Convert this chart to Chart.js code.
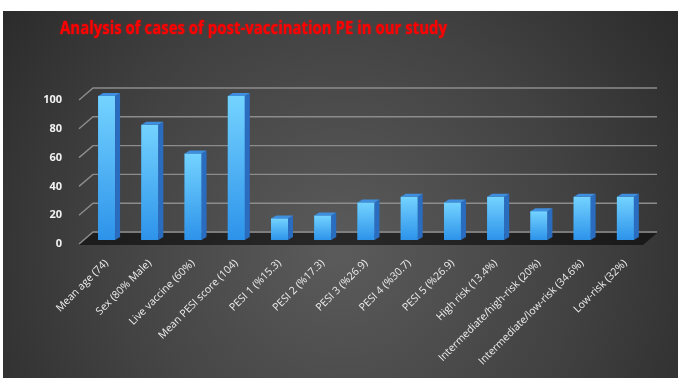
<!DOCTYPE html>
<html>
<head>
<meta charset="utf-8">
<script src="https://cdn.jsdelivr.net/npm/chart.js@4.4.1/dist/chart.umd.min.js"></script>
<style>
  html, body { margin: 0; padding: 0; background: #fff; }
  #wrap { width: 678px; height: 378px; }
</style>
</head>
<body>
<div id="wrap"><canvas id="chart" width="678" height="378"></canvas></div>
<script>
const chartTitle = 'Analysis of cases of post-vaccination PE in our study';

const categories = [
    'Mean age (74)', 'Sex (80% Male)', 'Live vaccine (60%)', 'Mean PESI score (104)',
    'PESI 1 (%15.3)', 'PESI 2 (%17.3)', 'PESI 3 (%26.9)', 'PESI 4 (%30.7)', 'PESI 5 (%26.9)',
    'High risk (13.4%)', 'Intermediate/high-risk (20%)', 'Intermediate/low-risk (34.6%)', 'Low-risk (32%)'
];
const values = [100, 80, 60, 100, 15, 17, 26, 30, 26, 30, 20, 30, 30];
const yTicks = [0, 20, 40, 60, 80, 100];

// 3d look: back wall offset and bar depth
const wallDx = 14, wallDy = -12;
const barDx = 5, barDy = -3;

const backgroundPlugin = {
    id: 'background',
    beforeDraw(chart) {
        const c = chart.ctx;
        c.save();
        c.fillStyle = '#fff';
        c.fillRect(0, 0, chart.width, chart.height);
        const g = c.createRadialGradient(340, 250, 10, 340, 250, 460);
        g.addColorStop(0, '#5a5a5a');
        g.addColorStop(0.5, '#424242');
        g.addColorStop(1, '#252525');
        c.fillStyle = g;
        c.fillRect(3, 11, chart.width - 3, chart.height - 11);

        // title
        c.font = 'bold 17px "Open Sans"';
        c.fillStyle = '#ff0000';
        c.textBaseline = 'alphabetic';
        c.shadowColor = 'rgba(255,0,0,0.6)';
        c.shadowBlur = 2;
        const w = c.measureText(chartTitle).width;
        c.translate(60, 34);
        c.scale(387 / w, 1);
        c.fillText(chartTitle, 0, 0);
        c.restore();
    },
    beforeDatasetsDraw(chart) {
        const c = chart.ctx;
        const y = chart.scales.y;
        const area = chart.chartArea;
        const x0 = area.left - 6;
        const right = 657;
        c.save();
        // floor
        const fy = y.getPixelForValue(0);
        c.fillStyle = 'rgba(0,0,0,0.55)';
        c.beginPath();
        c.moveTo(x0, fy + 5);
        c.lineTo(x0 + wallDx, fy + 5 + wallDy);
        c.lineTo(right, fy + 5 + wallDy);
        c.lineTo(right - wallDx, fy + 5);
        c.closePath();
        c.fill();
        // grid lines
        c.strokeStyle = '#8c8c8c';
        c.lineWidth = 1.4;
        yTicks.forEach(v => {
            const py = y.getPixelForValue(v) + 4;
            c.beginPath();
            c.moveTo(x0, py);
            c.lineTo(x0 + wallDx, py + wallDy);
            c.lineTo(right, py + wallDy);
            c.stroke();
        });
        c.restore();
    },
    afterDatasetsDraw(chart) {
        const c = chart.ctx;
        const meta = chart.getDatasetMeta(0);
        c.save();
        meta.data.forEach(bar => {
            const l = bar.x - bar.width / 2, r = bar.x + bar.width / 2;
            const t = bar.y, b = bar.base;
            // front face shading
            const g = c.createLinearGradient(0, t, 0, b);
            g.addColorStop(0, '#74d3ff');
            g.addColorStop(1, '#2d93ea');
            c.fillStyle = g;
            c.fillRect(l, t, r - l, b - t);
            // side face
            c.fillStyle = '#2a6cc0';
            c.beginPath();
            c.moveTo(r, t);
            c.lineTo(r + barDx, t + barDy);
            c.lineTo(r + barDx, b + barDy);
            c.lineTo(r, b);
            c.closePath();
            c.fill();
            // top face
            c.fillStyle = '#3f8fe0';
            c.beginPath();
            c.moveTo(l, t);
            c.lineTo(l + barDx, t + barDy);
            c.lineTo(r + barDx, t + barDy);
            c.lineTo(r, t);
            c.closePath();
            c.fill();
        });
        c.restore();
    }
};

const ctx = document.getElementById('chart').getContext('2d');
const peChart = new Chart(ctx, {
    type: 'bar',
    data: {
        labels: categories,
        datasets: [{
            data: values,
            backgroundColor: '#3aa8f2',
            borderWidth: 0,
            barPercentage: 0.8,
            categoryPercentage: 0.49
        }]
    },
    options: {
        responsive: false,
        animation: false,
        layout: { padding: { top: 96, right: 31, bottom: 0, left: 0 } },
        plugins: {
            legend: { display: false },
            title: { display: false },
            tooltip: { enabled: false }
        },
        scales: {
            x: {
                grid: { display: false },
                border: { display: false },
                ticks: {
                    color: '#ececec',
                    font: { family: 'Open Sans', size: 10.5 },
                    maxRotation: 45,
                    minRotation: 45,
                    padding: 9,
                    autoSkip: false
                },
                afterFit(scale) { scale.height = 138; }
            },
            y: {
                min: 0,
                max: 100,
                grid: { display: false },
                border: { display: false },
                afterFit(scale) { scale.width = 85; },
                afterBuildTicks(scale) { scale.ticks = yTicks.map(v => ({ value: v })); },
                ticks: {
                    color: '#f2f2f2',
                    font: { family: 'Open Sans', size: 11, weight: 'bold' },
                    padding: 15,
                    labelOffset: 4
                }
            }
        }
    },
    plugins: [backgroundPlugin]
});
</script>
</body>
</html>
